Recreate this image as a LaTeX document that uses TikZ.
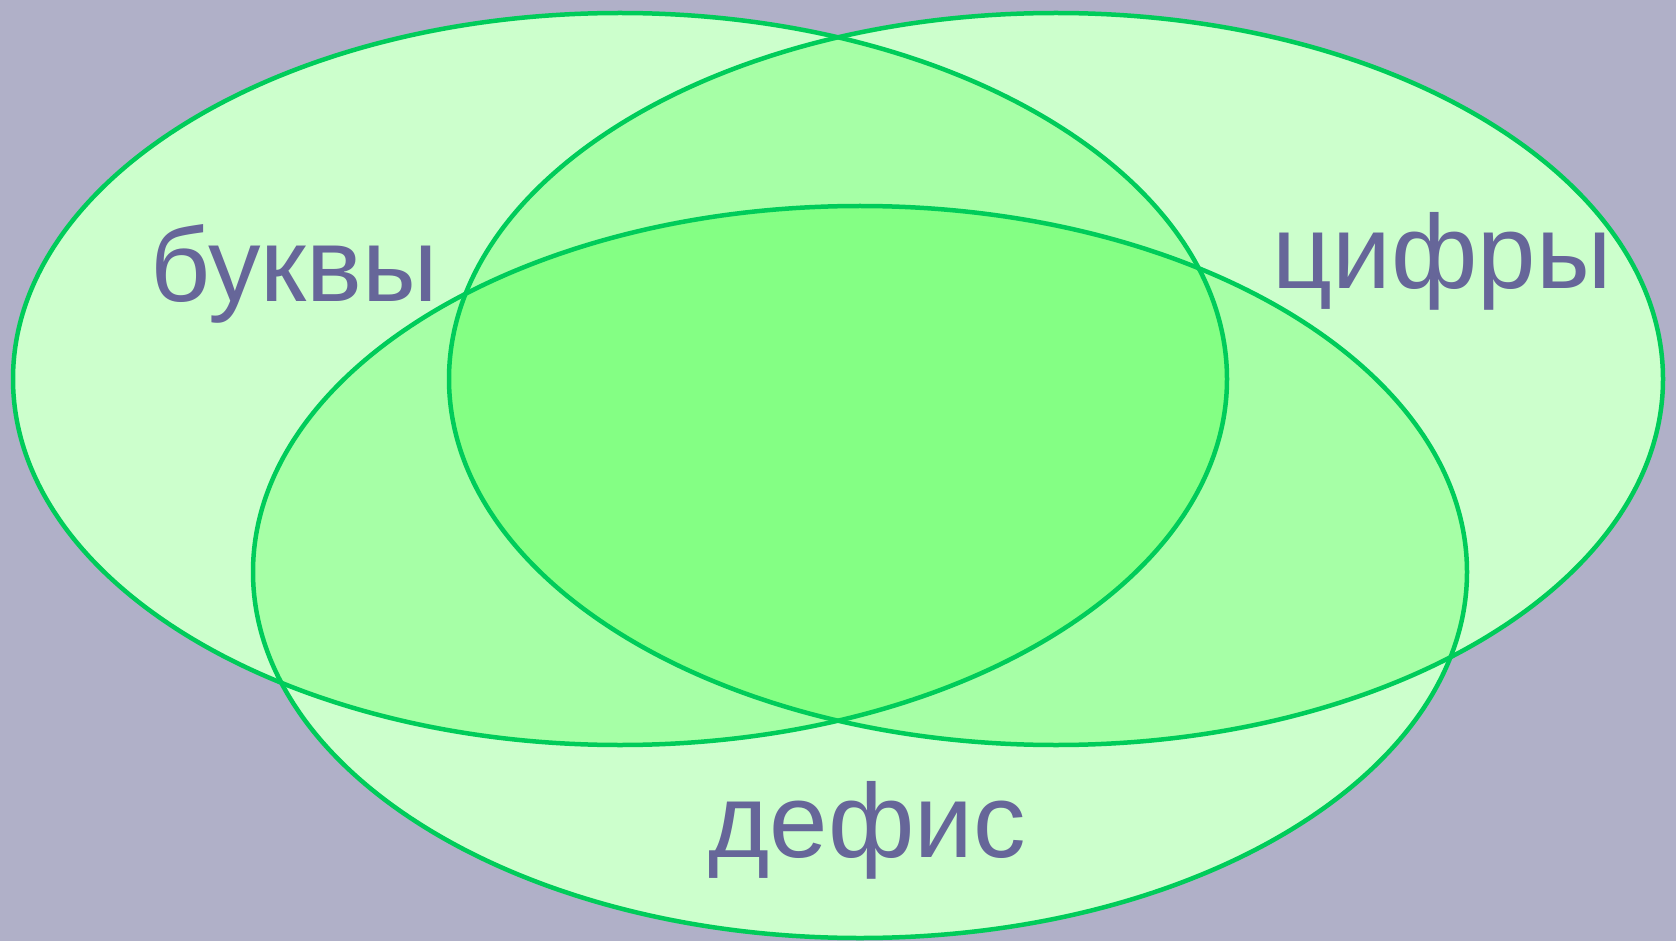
\documentclass[tikz,border=0pt]{standalone}
\usepackage{fontspec}
\setmainfont{Liberation Sans}
\definecolor{bgc}{HTML}{B0B0C8}
\definecolor{g1}{HTML}{CCFFCC}
\definecolor{g2}{HTML}{A6FFA6}
\definecolor{g3}{HTML}{84FF84}
\definecolor{edge}{HTML}{00CC5A}
\definecolor{txt}{HTML}{666699}
\tikzset{
  lbl/.style={text=txt, font=\fontsize{105}{120}\selectfont, anchor=base, inner sep=0pt},
  ell/.style={x radius=607pt, y radius=366pt},
  rim/.style={draw=edge, line width=4.5pt}
}
\begin{document}
\begin{tikzpicture}[x=1pt,y=-1pt]
\useasboundingbox (0,0) rectangle (1676,941);
\fill[bgc] (0,0) rectangle (1676,941);
\coordinate (cl) at (620,379);
\coordinate (cr) at (1056,379);
\coordinate (cb) at (860,572);
% single fills
\fill[g1] (cl) ellipse [ell];
\fill[g1] (cr) ellipse [ell];
\fill[g1] (cb) ellipse [ell];
% pairwise
\begin{scope}\clip (cl) ellipse [ell]; \fill[g2] (cr) ellipse [ell]; \fill[g2] (cb) ellipse [ell];\end{scope}
\begin{scope}\clip (cr) ellipse [ell]; \fill[g2] (cb) ellipse [ell];\end{scope}
% triple
\begin{scope}\clip (cl) ellipse [ell]; \clip (cr) ellipse [ell]; \fill[g3] (cb) ellipse [ell];\end{scope}
% outlines
\draw[rim] (cl) ellipse [ell];
\draw[rim] (cr) ellipse [ell];
\draw[rim] (cb) ellipse [ell];
% labels
\node[lbl] (bukvy) at (294,302) {буквы};
\node[lbl] (cifry) at (1442,289) {цифры};
\node[lbl] (defis) at (867,857) {дефис};
\end{tikzpicture}
\end{document}
